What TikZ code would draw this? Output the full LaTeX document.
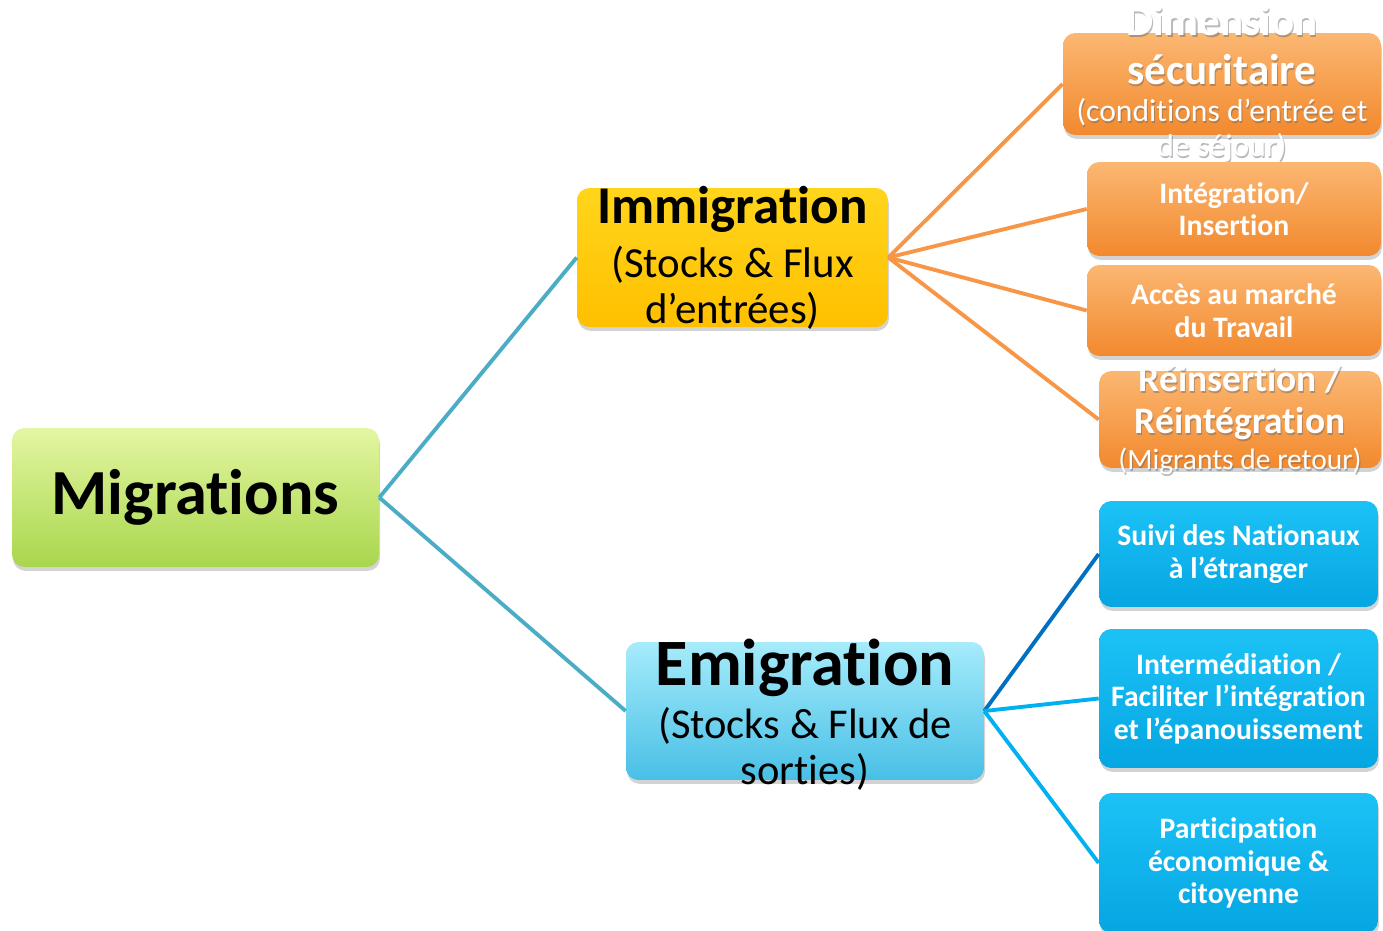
\documentclass[tikz,border=0pt]{standalone}
\usepackage{fontspec}
\setmainfont{Carlito}[Ligatures=NoCommon]
\usetikzlibrary{positioning,shadows}

\definecolor{greentop}{HTML}{E4F6A2}
\definecolor{greenbot}{HTML}{A8D64C}
\definecolor{goldtop}{HTML}{FFD51C}
\definecolor{goldbot}{HTML}{FFC000}
\definecolor{cyantop}{HTML}{A6ECFB}
\definecolor{cyanbot}{HTML}{48BFE6}
\definecolor{orangetop}{HTML}{FBB772}
\definecolor{orangebot}{HTML}{F2892E}
\definecolor{bluetop}{HTML}{1CC2F6}
\definecolor{bluebot}{HTML}{05A6E2}
\definecolor{tealline}{HTML}{4BACC6}
\definecolor{orangeline}{HTML}{F79646}
\definecolor{darkline}{HTML}{0070C0}
\definecolor{skyline}{HTML}{00B0F0}

\newcommand{\fsz}[2]{\fontsize{#1}{#2}\selectfont}
% texts that run out of their boxes (drawn twice: shadow, then white)
\newcommand{\secutext}{{\bfseries\fsz{24.5}{27.9}Dimension}\\{\bfseries\fsz{24.5}{27.9}sécuritaire}\\[-6.9pt](conditions d’entrée et\\[-8pt]de séjour)}
\newcommand{\reinstext}{{\bfseries\fsz{21.3}{23.9}Réinsertion /}\\{\bfseries\fsz{21.3}{23.9}Réintégration}\\[-3.4pt](Migrants de retour)}

\tikzset{
  box/.style={rectangle, rounded corners=7pt, inner sep=0pt,
    drop shadow={opacity=0.35, shadow xshift=0.6pt, shadow yshift=-2.2pt}},
  greenbox/.style={box, top color=greentop, bottom color=greenbot},
  goldbox/.style={box, top color=goldtop, bottom color=goldbot},
  cyanbox/.style={box, top color=cyantop, bottom color=cyanbot},
  orangebox/.style={box, top color=orangetop, bottom color=orangebot},
  bluebox/.style={box, top color=bluetop, bottom color=bluebot},
  btxt/.style={text=black, align=center, inner sep=0pt},
  wtxt/.style={text=white, align=center, inner sep=0pt, font=\bfseries\fsz{16.9}{18.5}},
  tshadow/.style={text=black!60, text opacity=0.45, xshift=0.6pt, yshift=-1.1pt},
  link/.style={line width=2.2pt}
}

\begin{document}
\begin{tikzpicture}[x=0.02cm, y=-0.02cm]
  \useasboundingbox (0,0) rectangle (1383,930);

  % main boxes
  \node[greenbox, minimum width=7.34cm, minimum height=2.78cm,
        label={[btxt, font=\bfseries\fsz{36.6}{40}]center:Migrations}] (migr) at (195.5,497.5) {};
  \node[goldbox, minimum width=6.22cm, minimum height=2.78cm,
        label={[btxt, font=\fsz{24.4}{30.7}]center:{{\bfseries\fsz{30.2}{30.7}Immigration}\\(Stocks \& Flux\\[-4.5pt]d’entrées)}}] (immi) at (732.5,257.5) {};
  \node[cyanbox, minimum width=7.16cm, minimum height=2.76cm,
        label={[btxt, yshift=-2.3pt, font=\fsz{24.2}{34.1}]center:{{\bfseries\fsz{37.7}{34.1}Emigration}\\[-4pt](Stocks \& Flux de\\[-7.9pt]sorties)}}] (emig) at (805,711) {};

  % immigration side
  \node[orangebox, minimum width=6.36cm, minimum height=2.04cm,
        label={[wtxt, tshadow, font=\fsz{18}{27.9}]center:{\secutext}},
        label={[wtxt, font=\fsz{18}{27.9}]center:{\secutext}}] (secu) at (1222,84) {};
  \node[orangebox, minimum width=5.88cm, minimum height=1.88cm,
        label={[wtxt]center:{Intégration/\\Insertion}}] (integ) at (1234,209) {};
  \node[orangebox, minimum width=5.88cm, minimum height=1.82cm,
        label={[wtxt]center:{Accès au marché\\du Travail}}] (acces) at (1234,310.5) {};
  \node[orangebox, minimum width=5.64cm, minimum height=1.94cm,
        label={[wtxt, tshadow, font=\fsz{16.8}{23.9}]center:{\reinstext}},
        label={[wtxt, font=\fsz{16.8}{23.9}]center:{\reinstext}}] (reins) at (1240,419.5) {};

  % emigration side
  \node[bluebox, minimum width=5.58cm, minimum height=2.12cm,
        label={[wtxt]center:{Suivi des Nationaux\\à l’étranger}}] (suivi) at (1238.5,554) {};
  \node[bluebox, minimum width=5.58cm, minimum height=2.78cm,
        label={[wtxt]center:{Intermédiation /\\Faciliter l’intégration\\et l’épanouissement}}] (inter) at (1238.5,698.5) {};
  \node[bluebox, minimum width=5.58cm, minimum height=2.8cm,
        label={[wtxt]center:{Participation\\économique \&\\citoyenne}}] (parti) at (1238.5,863) {};

  \path[link, draw=tealline] (migr.east) edge (immi.west)
                             (migr.east) edge (emig.west);
  \path[link, draw=orangeline] (immi.east) edge (secu.west)
                               (immi.east) edge (integ.west)
                               (immi.east) edge (acces.west)
                               (immi.east) edge (reins.west);
  \path[link] (emig.east) edge[darkline] (suivi.west)
              (emig.east) edge[skyline] (inter.west)
              (emig.east) edge[skyline] (parti.west);
\end{tikzpicture}
\end{document}
